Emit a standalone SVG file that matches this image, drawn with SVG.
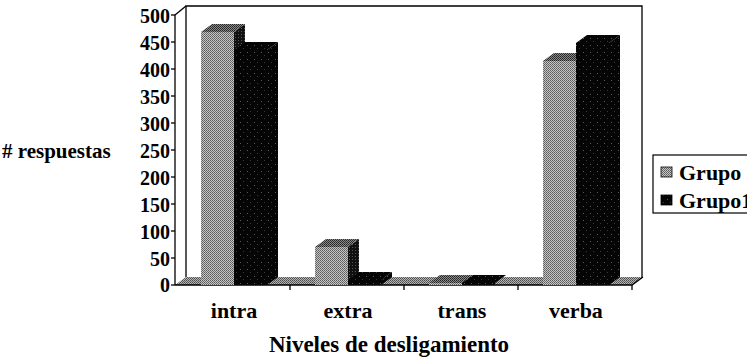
<svg xmlns="http://www.w3.org/2000/svg" width="747" height="357" viewBox="0 0 747 357">
<style>
text{font-family:"Liberation Serif","Times New Roman",serif;font-weight:bold;fill:#000}
.tick{font-size:20px;text-anchor:end}
.cat{font-size:22px;text-anchor:middle}
.ln{stroke:#000;stroke-width:1.3;fill:none}
.g1f{fill:url(#p1)}
.g1t{fill:url(#p1t)}
.g1s{fill:url(#p1s)}
.g2{fill:url(#p2)}
</style>
<defs>
<pattern id="p1" width="2" height="2" patternUnits="userSpaceOnUse"><rect width="2" height="2" fill="#c6c6c6"/><rect width="1" height="1" fill="#5a5a5a"/><rect x="1" y="1" width="1" height="1" fill="#6e6e6e"/></pattern>
<pattern id="p1t" width="2" height="2" patternUnits="userSpaceOnUse"><rect width="2" height="2" fill="#8a8a8a"/><rect width="1" height="1" fill="#222"/><rect x="1" y="1" width="1" height="1" fill="#333"/></pattern>
<pattern id="p1s" width="3" height="3" patternUnits="userSpaceOnUse"><rect width="3" height="3" fill="#111"/><rect x="1" y="1" width="1" height="1" fill="#555"/></pattern>
<pattern id="p2" width="7" height="7" patternUnits="userSpaceOnUse"><rect width="7" height="7" fill="#050505"/><rect x="2" y="3" width="1" height="1" fill="#5a5a5a"/><rect x="5" y="6" width="1" height="1" fill="#3a3a3a"/></pattern>
<pattern id="pf" width="2" height="2" patternUnits="userSpaceOnUse"><rect width="2" height="2" fill="#b4b4b4"/><rect width="1" height="1" fill="#4a4a4a"/><rect x="1" y="1" width="1" height="1" fill="#606060"/></pattern>
<clipPath id="vp"><rect width="747" height="357"/></clipPath>
</defs>

<g id="walls">
<polygon points="175,15 186,6 186,277 175,285" fill="#fff"/>
<rect x="186" y="6" width="456" height="271" fill="#fff"/>
<polyline class="ln" points="186,277 186,6 642,6 642,277"/>
<line class="ln" x1="175" y1="15" x2="186" y2="6"/>
<polygon points="175,285 632,285 643,277 186,277" fill="url(#pf)"/>
<polyline class="ln" points="175,285 632,285 643,277"/>
<line class="ln" x1="175" y1="15" x2="175" y2="285"/>
</g>

<g id="y-axis">
<g class="ln">
<line x1="171" y1="15" x2="175" y2="15"/><line x1="171" y1="42" x2="175" y2="42"/><line x1="171" y1="69" x2="175" y2="69"/><line x1="171" y1="96" x2="175" y2="96"/><line x1="171" y1="123" x2="175" y2="123"/><line x1="171" y1="150" x2="175" y2="150"/><line x1="171" y1="177" x2="175" y2="177"/><line x1="171" y1="204" x2="175" y2="204"/><line x1="171" y1="231" x2="175" y2="231"/><line x1="171" y1="258" x2="175" y2="258"/><line x1="171" y1="285" x2="175" y2="285"/>
</g>
<text class="tick" x="170" y="23">500</text>
<text class="tick" x="170" y="50">450</text>
<text class="tick" x="170" y="77">400</text>
<text class="tick" x="170" y="104">350</text>
<text class="tick" x="170" y="131">300</text>
<text class="tick" x="170" y="158">250</text>
<text class="tick" x="170" y="185">200</text>
<text class="tick" x="170" y="212">150</text>
<text class="tick" x="170" y="239">100</text>
<text class="tick" x="170" y="266">50</text>
<text class="tick" x="170" y="292">0</text>
<text x="2" y="158" style="font-size:21px"># respuestas</text>
</g>

<g id="x-axis">
<g class="ln">
<line x1="290" y1="285" x2="290" y2="290"/><line x1="404" y1="285" x2="404" y2="290"/><line x1="518" y1="285" x2="518" y2="290"/><line x1="632" y1="285" x2="632" y2="290"/>
</g>
<text class="cat" x="234" y="318">intra</text>
<text class="cat" x="348" y="318">extra</text>
<text class="cat" x="462" y="318">trans</text>
<text class="cat" x="576" y="318">verba</text>
<text x="389" y="352" style="font-size:23px;text-anchor:middle">Niveles de desligamiento</text>
</g>

<g id="bars">
<g id="intra-g1"><rect class="g1f" x="201" y="32" width="33" height="253"/><polygon class="g1t" points="201,32 212,24 245,24 234,32"/><polygon class="g1s" points="234,32 245,24 245,277 234,285"/></g>
<g id="intra-g2"><rect class="g2" x="234" y="50" width="33" height="235"/><polygon class="g2" points="234,50 245,42 278,42 267,50"/><polygon class="g2" points="267,50 278,42 278,277 267,285"/></g>
<g id="extra-g1"><rect class="g1f" x="315" y="247" width="33" height="38"/><polygon class="g1t" points="315,247 326,239 359,239 348,247"/><polygon class="g1s" points="348,247 359,239 359,277 348,285"/></g>
<g id="extra-g2"><rect class="g2" x="348" y="280" width="33" height="5"/><polygon class="g2" points="348,280 359,272 392,272 381,280"/><polygon class="g2" points="381,280 392,272 392,277 381,285"/></g>
<g id="trans-g1"><rect class="g1f" x="429" y="283" width="33" height="2"/><polygon class="g1t" points="429,283 440,275 473,275 462,283"/></g>
<g id="trans-g2"><rect class="g2" x="462" y="283" width="33" height="2"/><polygon class="g2" points="462,283 473,275 506,275 495,283"/></g>
<g id="verba-g1"><rect class="g1f" x="543" y="61" width="33" height="224"/><polygon class="g1t" points="543,61 554,53 587,53 576,61"/><polygon class="g1s" points="576,61 587,53 587,277 576,285"/></g>
<g id="verba-g2"><rect class="g2" x="576" y="43" width="33" height="242"/><polygon class="g2" points="576,43 587,35 620,35 609,43"/><polygon class="g2" points="609,43 620,35 620,277 609,285"/></g>
</g>

<g id="legend" clip-path="url(#vp)">
<rect x="653" y="155" width="100" height="58" fill="#fff" stroke="#000" stroke-width="1.2"/>
<rect x="661" y="167" width="11" height="10" class="g1f" stroke="#000" stroke-width="0.8"/>
<text x="679" y="180" style="font-size:22px">Grupo</text>
<rect x="661" y="195" width="11" height="10" class="g2" stroke="#000" stroke-width="0.8"/>
<text x="679" y="208" style="font-size:22px">Grupo1</text>
</g>
</svg>
